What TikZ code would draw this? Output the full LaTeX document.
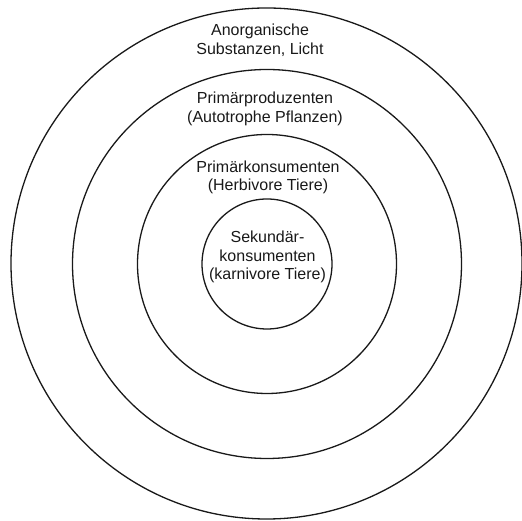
\documentclass[tikz,border=0pt]{standalone}
\usepackage{fontspec}
\setmainfont{Liberation Sans}
\begin{document}
\begin{tikzpicture}[x=1pt,y=1pt,
  ring/.style={draw=black!90,line width=1.3pt},
  lbl/.style={align=center,inner sep=0pt,text=black!90,font=\fontsize{16}{18.6}\selectfont}]
\useasboundingbox (0,0) rectangle (522,521);
\coordinate (c) at (267,257);
\draw[ring] (266.5,257.5) circle[radius=255.5];
\draw[ring] (c) circle[radius=194.5];
\draw[ring] (c) circle[radius=129.5];
\draw[ring] (c) circle[radius=65];
\node[lbl] (anorg) at (260,480.5) {Anorganische\\Substanzen, Licht};
\node[lbl] (prod) at (265,412) {Primärproduzenten\\(Autotrophe Pflanzen)};
\node[lbl] (pkons) at (268,343.5) {Primärkonsumenten\\(Herbivore Tiere)};
\node[lbl] (skons) at (267.5,264) {Sekundär-\\konsumenten\\(karnivore Tiere)};
\end{tikzpicture}
\end{document}
